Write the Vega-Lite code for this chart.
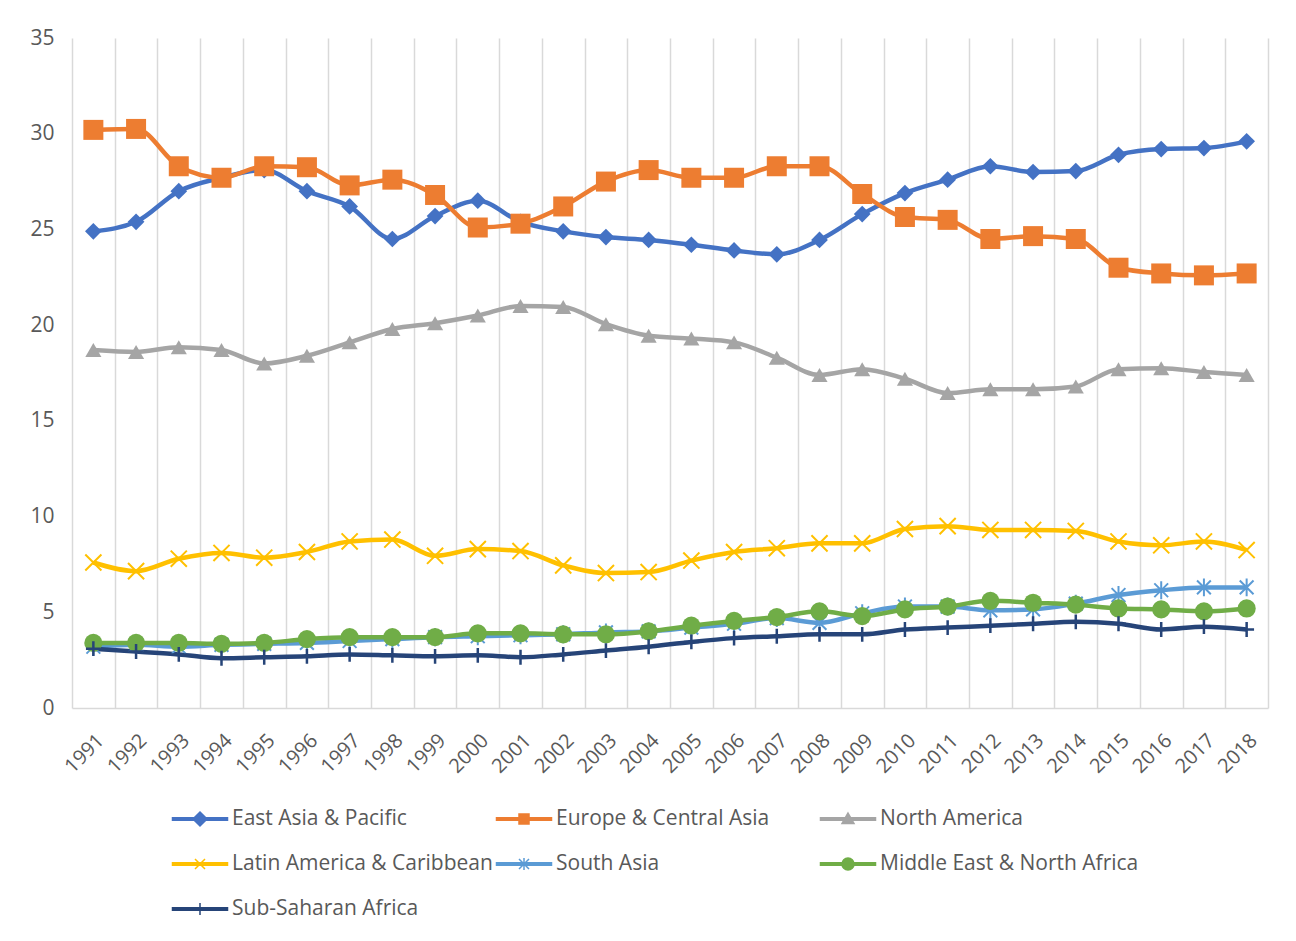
{
  "$schema": "https://vega.github.io/schema/vega-lite/v6.json",
  "width": 1196,
  "height": 670,
  "autosize": {"type": "none"},
  "padding": {"left": 72, "top": 38, "right": 28, "bottom": 233},
  "background": "white",
  "config": {"font": "Open Sans", "view": {"stroke": null}},
  "data": {"values": [
    {"year": 1991, "East Asia & Pacific": 24.9, "Europe & Central Asia": 30.2, "North America": 18.7, "Latin America & Caribbean": 7.6, "South Asia": 3.2, "Middle East & North Africa": 3.4, "Sub-Saharan Africa": 3.1},
    {"year": 1992, "East Asia & Pacific": 25.4, "Europe & Central Asia": 30.25, "North America": 18.6, "Latin America & Caribbean": 7.15, "South Asia": 3.3, "Middle East & North Africa": 3.4, "Sub-Saharan Africa": 2.95},
    {"year": 1993, "East Asia & Pacific": 27.0, "Europe & Central Asia": 28.3, "North America": 18.85, "Latin America & Caribbean": 7.8, "South Asia": 3.2, "Middle East & North Africa": 3.4, "Sub-Saharan Africa": 2.8},
    {"year": 1994, "East Asia & Pacific": 27.7, "Europe & Central Asia": 27.7, "North America": 18.7, "Latin America & Caribbean": 8.1, "South Asia": 3.3, "Middle East & North Africa": 3.35, "Sub-Saharan Africa": 2.6},
    {"year": 1995, "East Asia & Pacific": 28.1, "Europe & Central Asia": 28.3, "North America": 18.0, "Latin America & Caribbean": 7.85, "South Asia": 3.35, "Middle East & North Africa": 3.4, "Sub-Saharan Africa": 2.65},
    {"year": 1996, "East Asia & Pacific": 27.0, "Europe & Central Asia": 28.25, "North America": 18.4, "Latin America & Caribbean": 8.15, "South Asia": 3.4, "Middle East & North Africa": 3.6, "Sub-Saharan Africa": 2.7},
    {"year": 1997, "East Asia & Pacific": 26.2, "Europe & Central Asia": 27.3, "North America": 19.1, "Latin America & Caribbean": 8.7, "South Asia": 3.5, "Middle East & North Africa": 3.7, "Sub-Saharan Africa": 2.8},
    {"year": 1998, "East Asia & Pacific": 24.5, "Europe & Central Asia": 27.6, "North America": 19.8, "Latin America & Caribbean": 8.8, "South Asia": 3.6, "Middle East & North Africa": 3.7, "Sub-Saharan Africa": 2.75},
    {"year": 1999, "East Asia & Pacific": 25.7, "Europe & Central Asia": 26.8, "North America": 20.1, "Latin America & Caribbean": 7.95, "South Asia": 3.7, "Middle East & North Africa": 3.7, "Sub-Saharan Africa": 2.7},
    {"year": 2000, "East Asia & Pacific": 26.5, "Europe & Central Asia": 25.1, "North America": 20.5, "Latin America & Caribbean": 8.3, "South Asia": 3.75, "Middle East & North Africa": 3.9, "Sub-Saharan Africa": 2.75},
    {"year": 2001, "East Asia & Pacific": 25.4, "Europe & Central Asia": 25.3, "North America": 21.0, "Latin America & Caribbean": 8.2, "South Asia": 3.8, "Middle East & North Africa": 3.9, "Sub-Saharan Africa": 2.65},
    {"year": 2002, "East Asia & Pacific": 24.9, "Europe & Central Asia": 26.2, "North America": 20.95, "Latin America & Caribbean": 7.45, "South Asia": 3.85, "Middle East & North Africa": 3.85, "Sub-Saharan Africa": 2.8},
    {"year": 2003, "East Asia & Pacific": 24.6, "Europe & Central Asia": 27.5, "North America": 20.05, "Latin America & Caribbean": 7.05, "South Asia": 3.95, "Middle East & North Africa": 3.85, "Sub-Saharan Africa": 3.0},
    {"year": 2004, "East Asia & Pacific": 24.45, "Europe & Central Asia": 28.1, "North America": 19.45, "Latin America & Caribbean": 7.1, "South Asia": 4.0, "Middle East & North Africa": 4.0, "Sub-Saharan Africa": 3.2},
    {"year": 2005, "East Asia & Pacific": 24.2, "Europe & Central Asia": 27.7, "North America": 19.3, "Latin America & Caribbean": 7.7, "South Asia": 4.2, "Middle East & North Africa": 4.3, "Sub-Saharan Africa": 3.45},
    {"year": 2006, "East Asia & Pacific": 23.9, "Europe & Central Asia": 27.7, "North America": 19.1, "Latin America & Caribbean": 8.15, "South Asia": 4.4, "Middle East & North Africa": 4.55, "Sub-Saharan Africa": 3.65},
    {"year": 2007, "East Asia & Pacific": 23.7, "Europe & Central Asia": 28.3, "North America": 18.3, "Latin America & Caribbean": 8.35, "South Asia": 4.7, "Middle East & North Africa": 4.75, "Sub-Saharan Africa": 3.75},
    {"year": 2008, "East Asia & Pacific": 24.45, "Europe & Central Asia": 28.3, "North America": 17.4, "Latin America & Caribbean": 8.6, "South Asia": 4.45, "Middle East & North Africa": 5.05, "Sub-Saharan Africa": 3.85},
    {"year": 2009, "East Asia & Pacific": 25.8, "Europe & Central Asia": 26.85, "North America": 17.7, "Latin America & Caribbean": 8.6, "South Asia": 4.95, "Middle East & North Africa": 4.8, "Sub-Saharan Africa": 3.85},
    {"year": 2010, "East Asia & Pacific": 26.9, "Europe & Central Asia": 25.65, "North America": 17.2, "Latin America & Caribbean": 9.35, "South Asia": 5.3, "Middle East & North Africa": 5.15, "Sub-Saharan Africa": 4.1},
    {"year": 2011, "East Asia & Pacific": 27.6, "Europe & Central Asia": 25.5, "North America": 16.45, "Latin America & Caribbean": 9.5, "South Asia": 5.3, "Middle East & North Africa": 5.3, "Sub-Saharan Africa": 4.2},
    {"year": 2012, "East Asia & Pacific": 28.3, "Europe & Central Asia": 24.5, "North America": 16.65, "Latin America & Caribbean": 9.3, "South Asia": 5.1, "Middle East & North Africa": 5.6, "Sub-Saharan Africa": 4.3},
    {"year": 2013, "East Asia & Pacific": 28.0, "Europe & Central Asia": 24.65, "North America": 16.65, "Latin America & Caribbean": 9.3, "South Asia": 5.15, "Middle East & North Africa": 5.5, "Sub-Saharan Africa": 4.4},
    {"year": 2014, "East Asia & Pacific": 28.05, "Europe & Central Asia": 24.5, "North America": 16.8, "Latin America & Caribbean": 9.25, "South Asia": 5.45, "Middle East & North Africa": 5.4, "Sub-Saharan Africa": 4.5},
    {"year": 2015, "East Asia & Pacific": 28.9, "Europe & Central Asia": 23.0, "North America": 17.7, "Latin America & Caribbean": 8.7, "South Asia": 5.9, "Middle East & North Africa": 5.2, "Sub-Saharan Africa": 4.4},
    {"year": 2016, "East Asia & Pacific": 29.2, "Europe & Central Asia": 22.7, "North America": 17.75, "Latin America & Caribbean": 8.5, "South Asia": 6.15, "Middle East & North Africa": 5.15, "Sub-Saharan Africa": 4.1},
    {"year": 2017, "East Asia & Pacific": 29.25, "Europe & Central Asia": 22.6, "North America": 17.55, "Latin America & Caribbean": 8.7, "South Asia": 6.3, "Middle East & North Africa": 5.05, "Sub-Saharan Africa": 4.25},
    {"year": 2018, "East Asia & Pacific": 29.6, "Europe & Central Asia": 22.7, "North America": 17.4, "Latin America & Caribbean": 8.25, "South Asia": 6.3, "Middle East & North Africa": 5.2, "Sub-Saharan Africa": 4.1}
  ]},
  "transform": [
    {"fold": ["East Asia & Pacific", "Europe & Central Asia", "North America", "Latin America & Caribbean", "South Asia", "Middle East & North Africa", "Sub-Saharan Africa"], "as": ["region", "value"]}
  ],
  "encoding": {
    "x": {
      "field": "year", "type": "quantitative",
      "scale": {"domain": [1990.5, 2018.5], "nice": false, "zero": false},
      "axis": {
        "title": null,
        "values": [1990.5, 1991, 1991.5, 1992, 1992.5, 1993, 1993.5, 1994, 1994.5, 1995, 1995.5, 1996, 1996.5, 1997, 1997.5, 1998, 1998.5, 1999, 1999.5, 2000, 2000.5, 2001, 2001.5, 2002, 2002.5, 2003, 2003.5, 2004, 2004.5, 2005, 2005.5, 2006, 2006.5, 2007, 2007.5, 2008, 2008.5, 2009, 2009.5, 2010, 2010.5, 2011, 2011.5, 2012, 2012.5, 2013, 2013.5, 2014, 2014.5, 2015, 2015.5, 2016, 2016.5, 2017, 2017.5, 2018, 2018.5],
        "labelExpr": "datum.value % 1 === 0 ? format(datum.value, 'd') : ''",
        "labelOverlap": false,
        "labelBound": false,
        "labelFlush": false,
        "labelAngle": -45,
        "labelFontSize": 20,
        "labelColor": "#595959",
        "labelPadding": 22,
        "ticks": false,
        "grid": true,
        "gridColor": "#d9d9d9",
        "gridWidth": 1.5,
        "gridOpacity": {"condition": {"test": "datum.value % 1 !== 0", "value": 1}, "value": 0},
        "domain": true,
        "domainColor": "#d9d9d9",
        "domainWidth": 1.5
      }
    },
    "y": {
      "field": "value", "type": "quantitative",
      "scale": {"domain": [0, 35], "nice": false},
      "axis": {
        "title": null,
        "values": [0, 5, 10, 15, 20, 25, 30, 35],
        "grid": false, "domain": false, "ticks": false,
        "labelFontSize": 21, "labelColor": "#595959", "labelPadding": 18
      }
    },
    "color": {
      "field": "region", "type": "nominal", "legend": null,
      "scale": {
        "domain": ["Sub-Saharan Africa", "East Asia & Pacific", "Europe & Central Asia", "North America", "Latin America & Caribbean", "South Asia", "Middle East & North Africa"],
        "range": ["#264478", "#4472C4", "#ED7D31", "#A5A5A5", "#FFC000", "#5B9BD5", "#70AD47"]
      }
    }
  },
  "layer": [
    {"mark": {"type": "line", "strokeWidth": 4.5, "interpolate": "monotone"}},
    {"transform": [{"filter": {"field": "region", "equal": "East Asia & Pacific"}}],
     "mark": {"type": "point", "shape": "diamond", "filled": true, "size": 280, "opacity": 1}},
    {"transform": [{"filter": {"field": "region", "equal": "Europe & Central Asia"}}],
     "mark": {"type": "point", "shape": "square", "filled": true, "size": 400, "opacity": 1}},
    {"transform": [{"filter": {"field": "region", "equal": "North America"}}],
     "mark": {"type": "point", "shape": "triangle-up", "filled": true, "size": 260, "opacity": 1}},
    {"transform": [{"filter": {"field": "region", "equal": "Latin America & Caribbean"}}],
     "mark": {"type": "point", "shape": "M-1,-1L1,1M-1,1L1,-1", "filled": false, "strokeWidth": 2, "size": 260, "opacity": 1}},
    {"transform": [{"filter": {"field": "region", "equal": "South Asia"}}],
     "mark": {"type": "point", "shape": "M-1,-1L1,1M-1,1L1,-1M0,-1.3L0,1.3", "filled": false, "strokeWidth": 2, "size": 190, "opacity": 1}},
    {"transform": [{"filter": {"field": "region", "equal": "Middle East & North Africa"}}],
     "mark": {"type": "point", "shape": "circle", "filled": true, "size": 330, "opacity": 1}},
    {"transform": [{"filter": {"field": "region", "equal": "Sub-Saharan Africa"}}],
     "mark": {"type": "point", "shape": "M0,-1L0,1M-1,0L1,0", "filled": false, "strokeWidth": 2.5, "size": 220, "opacity": 1}},
    {"mark": {"type": "point", "filled": true, "opacity": 0, "strokeWidth": 1.5},
     "encoding": {
       "fill": {
         "field": "region", "type": "nominal",
         "scale": {
           "domain": ["East Asia & Pacific", "Europe & Central Asia", "North America", "Latin America & Caribbean", "South Asia", "Middle East & North Africa", "Sub-Saharan Africa"],
           "range": ["#4472C4", "#ED7D31", "#A5A5A5", "#FFC000", "#5B9BD5", "#70AD47", "#264478"]
         },
         "legend": {
           "orient": "none", "legendX": 117, "legendY": 770,
           "direction": "horizontal", "columns": 3, "title": null,
           "symbolSize": 400, "symbolStrokeWidth": 1.5, "labelOffset": 21,
           "labelFontSize": 21, "labelColor": "#595959", "labelLimit": 400,
           "rowPadding": 24, "columnPadding": 0, "gridAlign": "all", "padding": 0,
           "symbolOpacity": 1
         }
       },
       "stroke": {
         "field": "region", "type": "nominal",
         "scale": {
           "domain": ["East Asia & Pacific", "Europe & Central Asia", "North America", "Latin America & Caribbean", "South Asia", "Middle East & North Africa", "Sub-Saharan Africa"],
           "range": ["#4472C4", "#ED7D31", "#A5A5A5", "#FFC000", "#5B9BD5", "#70AD47", "#264478"]
         },
         "legend": {
           "orient": "none", "legendX": 117, "legendY": 770,
           "direction": "horizontal", "columns": 3, "title": null,
           "symbolSize": 400, "symbolStrokeWidth": 1.5, "labelOffset": 21,
           "labelFontSize": 21, "labelColor": "#595959", "labelLimit": 400,
           "rowPadding": 24, "columnPadding": 0, "gridAlign": "all", "padding": 0,
           "symbolOpacity": 1
         }
       },
       "shape": {
         "field": "region", "type": "nominal",
         "scale": {
           "domain": ["East Asia & Pacific", "Europe & Central Asia", "North America", "Latin America & Caribbean", "South Asia", "Middle East & North Africa", "Sub-Saharan Africa"],
           "range": [
             "M-2.75,-0.12L2.75,-0.12L2.75,0.12L-2.75,0.12ZM0,-0.7L0.7,0L0,0.7L-0.7,0Z",
             "M-2.75,-0.12L2.75,-0.12L2.75,0.12L-2.75,0.12ZM-0.5,-0.5L0.5,-0.5L0.5,0.5L-0.5,0.5Z",
             "M-2.75,-0.12L2.75,-0.12L2.75,0.12L-2.75,0.12ZM0,-0.6L0.6,0.45L-0.6,0.45Z",
             "M-2.75,-0.12L2.75,-0.12L2.75,0.12L-2.75,0.12ZM-0.5,-0.5L0.5,0.5M-0.5,0.5L0.5,-0.5",
             "M-2.75,-0.12L2.75,-0.12L2.75,0.12L-2.75,0.12ZM-0.5,-0.5L0.5,0.5M-0.5,0.5L0.5,-0.5M0,-0.6L0,0.6",
             "M-2.75,-0.12L2.75,-0.12L2.75,0.12L-2.75,0.12ZM0.6,0A0.6,0.6,0,1,1,-0.6,0A0.6,0.6,0,1,1,0.6,0Z",
             "M-2.75,-0.12L2.75,-0.12L2.75,0.12L-2.75,0.12ZM0,-0.6L0,0.6"
           ]
         },
         "legend": {
           "orient": "none", "legendX": 117, "legendY": 770,
           "direction": "horizontal", "columns": 3, "title": null,
           "symbolSize": 400, "symbolStrokeWidth": 1.5, "labelOffset": 21,
           "labelFontSize": 21, "labelColor": "#595959", "labelLimit": 400,
           "rowPadding": 24, "columnPadding": 0, "gridAlign": "all", "padding": 0,
           "symbolOpacity": 1
         }
       }
     }}
  ]
}
